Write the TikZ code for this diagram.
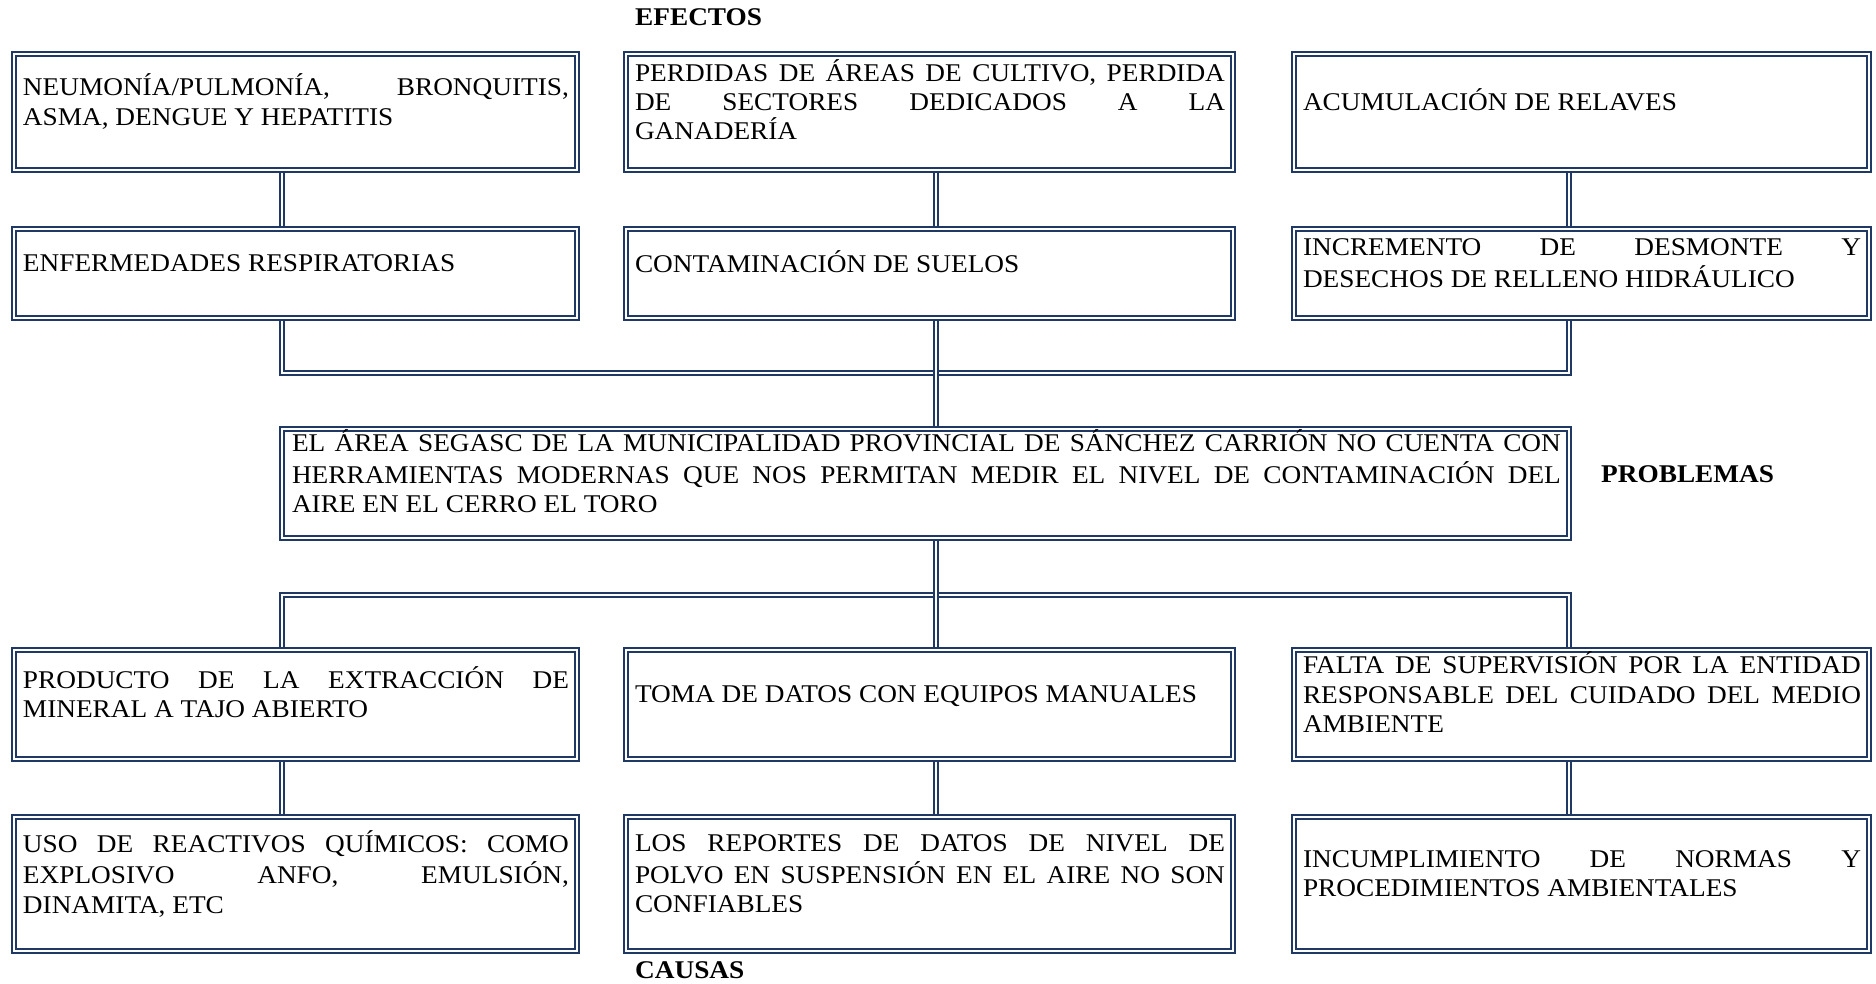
\documentclass[tikz,border=0pt]{standalone}
\usepackage{fontspec}
\setmainfont{Liberation Serif}[FakeStretch=1.07]
\definecolor{navy}{RGB}{32,56,100}
\newcommand\bodyfont{\fontsize{25.5}{29.3}\selectfont}
\hyphenpenalty=10000
\exhyphenpenalty=10000
\tolerance=10000
\hbadness=10000
\pgfdeclarelayer{bg}
\pgfsetlayers{bg,main}
\begin{document}
\begin{tikzpicture}[x=1pt,y=-1pt,
  box/.style={rectangle, draw=navy, line width=1.9pt, double=white, double distance=1.8pt, fill=white, inner sep=0pt},
  conn/.style={draw=navy, line width=1.9pt, double=white, double distance=1.8pt},
  txt/.style={inner sep=0pt, align=justify, font=\bodyfont},
  lbl/.style={inner sep=0pt, font=\bodyfont\bfseries, anchor=base west}]
\useasboundingbox (0,0) rectangle (1876,984);

% column / bar positions
\coordinate (xl) at (282,0);
\coordinate (xm) at (936,0);
\coordinate (xr) at (1569,0);
\coordinate (ub) at (936,373);
\coordinate (lb) at (936,595);

% effects, row 1
\node[box, minimum width=563pt, minimum height=116pt] (e1) at (295.5,112) {};
\node[box, minimum width=607pt, minimum height=116pt] (e2) at (929.5,112) {};
\node[box, minimum width=575pt, minimum height=116pt] (e3) at (1581.5,112) {};
% effects, row 2
\node[box, minimum width=563pt, minimum height=89pt] (e4) at (295.5,273.5) {};
\node[box, minimum width=607pt, minimum height=89pt] (e5) at (929.5,273.5) {};
\node[box, minimum width=575pt, minimum height=89pt] (e6) at (1581.5,273.5) {};
% problem
\node[box, minimum width=1287pt, minimum height=109pt] (p) at (925.5,483.5) {};
% causes, row 1
\node[box, minimum width=563pt, minimum height=109pt] (c1) at (295.5,704.5) {};
\node[box, minimum width=607pt, minimum height=109pt] (c2) at (929.5,704.5) {};
\node[box, minimum width=575pt, minimum height=109pt] (c3) at (1581.5,704.5) {};
% causes, row 2
\node[box, minimum width=563pt, minimum height=134pt] (c4) at (295.5,884) {};
\node[box, minimum width=607pt, minimum height=134pt] (c5) at (929.5,884) {};
\node[box, minimum width=575pt, minimum height=134pt] (c6) at (1581.5,884) {};

\begin{pgfonlayer}{bg}
  \fill[white] (0,0) rectangle (1876,984);
  % effects chain
  \draw[conn] (e1.south -| xl) -- (e4.north -| xl);
  \draw[conn] (e2.south -| xm) -- (e5.north -| xm);
  \draw[conn] (e3.south -| xr) -- (e6.north -| xr);
  \draw[conn] (e4.south -| xl) -- (xl |- ub) -- (xr |- ub) -- (e6.south -| xr);
  \draw[conn] (e5.south -| xm) -- (p.north -| xm);
  % causes chain
  \draw[conn] (c1.north -| xl) -- (xl |- lb) -- (xr |- lb) -- (c3.north -| xr);
  \draw[conn] (p.south -| xm) -- (c2.north -| xm);
  \draw[conn] (c1.south -| xl) -- (c4.north -| xl);
  \draw[conn] (c2.south -| xm) -- (c5.north -| xm);
  \draw[conn] (c3.south -| xr) -- (c6.north -| xr);
\end{pgfonlayer}

% box texts
\node[txt, text width=546pt] (e1t) at ([xshift=0.5pt,yshift=8pt]e1.center)
  {\strut NEUMONÍA/PULMONÍA, BRONQUITIS,\linebreak ASMA, DENGUE Y HEPATITIS\strut};
\node[txt, text width=590pt] (e2t) at ([xshift=0.5pt,yshift=8pt]e2.center)
  {\strut PERDIDAS DE ÁREAS DE CULTIVO, PERDIDA\linebreak DE SECTORES DEDICADOS A LA\linebreak GANADERÍA\strut};
\node[txt, text width=558pt] (e3t) at ([xshift=0.5pt,yshift=8pt]e3.center)
  {\strut ACUMULACIÓN DE RELAVES\strut};
\node[txt, text width=546pt] (e4t) at ([xshift=0.5pt,yshift=8pt]e4.center)
  {\strut ENFERMEDADES RESPIRATORIAS\strut};
\node[txt, text width=590pt] (e5t) at ([xshift=0.5pt,yshift=8pt]e5.center)
  {\strut CONTAMINACIÓN DE SUELOS\strut};
\node[txt, text width=558pt] (e6t) at ([xshift=0.5pt,yshift=8pt]e6.center)
  {\strut INCREMENTO DE DESMONTE Y\linebreak DESECHOS DE RELLENO HIDRÁULICO\strut};
\node[txt, text width=1269pt] (pt) at ([xshift=1pt,yshift=8pt]p.center)
  {\strut EL ÁREA SEGASC DE LA MUNICIPALIDAD PROVINCIAL DE SÁNCHEZ CARRIÓN NO CUENTA CON\linebreak HERRAMIENTAS MODERNAS QUE NOS PERMITAN MEDIR EL NIVEL DE CONTAMINACIÓN DEL\linebreak AIRE EN EL CERRO EL TORO\strut};
\node[txt, text width=546pt] (c1t) at ([xshift=0.5pt,yshift=8pt]c1.center)
  {\strut PRODUCTO DE LA EXTRACCIÓN DE\linebreak MINERAL A TAJO ABIERTO\strut};
\node[txt, text width=590pt] (c2t) at ([xshift=0.5pt,yshift=8pt]c2.center)
  {\strut TOMA DE DATOS CON EQUIPOS MANUALES\strut};
\node[txt, text width=558pt] (c3t) at ([xshift=0.5pt,yshift=8pt]c3.center)
  {\strut FALTA DE SUPERVISIÓN POR LA ENTIDAD\linebreak RESPONSABLE DEL CUIDADO DEL MEDIO\linebreak AMBIENTE\strut};
\node[txt, text width=546pt] (c4t) at ([xshift=0.5pt,yshift=8pt]c4.center)
  {\strut USO DE REACTIVOS QUÍMICOS: COMO\linebreak EXPLOSIVO ANFO, EMULSIÓN,\linebreak DINAMITA, ETC\strut};
\node[txt, text width=590pt] (c5t) at ([xshift=0.5pt,yshift=8pt]c5.center)
  {\strut LOS REPORTES DE DATOS DE NIVEL DE\linebreak POLVO EN SUSPENSIÓN EN EL AIRE NO SON\linebreak CONFIABLES\strut};
\node[txt, text width=558pt] (c6t) at ([xshift=0.5pt,yshift=8pt]c6.center)
  {\strut INCUMPLIMIENTO DE NORMAS Y\linebreak PROCEDIMIENTOS AMBIENTALES\strut};

% section labels
\node[lbl] (efectos) at (635,25.4) {EFECTOS};
\node[lbl] (problemas) at (1601,482.4) {PROBLEMAS};
\node[lbl] (causas) at (635,978.4) {CAUSAS};
\end{tikzpicture}
\end{document}
